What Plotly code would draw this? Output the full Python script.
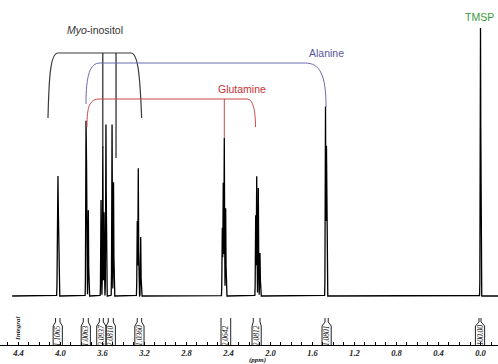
import numpy as np
import plotly.graph_objects as go

# ---------------- data ----------------
# chemical shifts (ppm) of the resolved lines and their heights (arbitrary units)
peak_ppm = [4.029, 4.024, 4.019,
            3.757, 3.751, 3.735,
            3.614, 3.597, 3.585, 3.567,
            3.509, 3.495,
            3.269, 3.259, 3.236,
            2.459, 2.450, 2.440, 2.427,
            2.141, 2.131, 2.116, 2.100,
            1.476, 1.467,
            0.000]
peak_height = [50, 104, 52,
               166, 118, 86,
               96, 150, 84, 172,
               172, 114,
               75, 128, 59,
               68, 113, 158, 88,
               81, 120, 108, 43,
               189, 150,
               268]
line_sigma = 0.0026        # ppm (Gaussian line width)
spec_start, spec_end = 4.46, -0.167

# integral regions (ppm, left/right) and printed integral values
integral_left = [4.047, 3.783, 3.630, 3.545, 3.269, 2.471, 2.164, 1.481, 0.014]
integral_right = [4.005, 3.735, 3.592, 3.497, 3.227, 2.379, 2.100, 1.450, -0.005]
integral_text = ["1.1065", "1.0063", "2.0937", "2.0810", "1.0360",
                 "2.0642", "2.0812", "1.0801", "100.00"]

tick_values = [4.4, 4.0, 3.6, 3.2, 2.8, 2.4, 2.0, 1.6, 1.2, 0.8, 0.4, 0.0]

# ---------------- spectrum ----------------
x = np.arange(spec_start, spec_end, -0.0004)
y = np.zeros_like(x)
for p, h in zip(peak_ppm, peak_height):
    y += h * np.exp(-0.5 * ((x - p) / line_sigma) ** 2)

fig = go.Figure()
fig.add_trace(go.Scatter(x=x, y=y, mode="lines",
                         line=dict(color="black", width=1.3),
                         hoverinfo="skip"))

shapes = []
annotations = []

# ---------------- assignment brackets ----------------
# Myo-inositol (dark grey)
shapes.append(dict(type="path", xref="x", yref="y",
                   path="M 4.119,178 C 4.110,215 4.100,243 4.024,243 L 3.329,243 "
                        "C 3.262,243 3.243,221 3.227,178",
                   line=dict(color="#3a3a3a", width=1.2)))
shapes.append(dict(type="line", xref="x", yref="y", x0=3.597, x1=3.597, y0=243, y1=148,
                   line=dict(color="#222222", width=1.2)))
shapes.append(dict(type="line", xref="x", yref="y", x0=3.471, x1=3.471, y0=243, y1=138,
                   line=dict(color="#222222", width=1.2)))
# Alanine (blue)
shapes.append(dict(type="path", xref="x", yref="y",
                   path="M 3.757,192 C 3.757,221 3.719,233 3.624,233 L 1.671,233 "
                        "C 1.529,233 1.471,221 1.471,189",
                   line=dict(color="#6a6aae", width=1)))
# Glutamine (red)
shapes.append(dict(type="path", xref="x", yref="y",
                   path="M 3.748,169 C 3.748,191 3.719,197 3.624,197 L 2.224,197 "
                        "C 2.167,197 2.143,186 2.143,169",
                   line=dict(color="#c84848", width=1)))
shapes.append(dict(type="line", xref="x", yref="y", x0=2.440, x1=2.440, y0=197, y1=158,
                   line=dict(color="#c84848", width=1)))

label_font = dict(family="Liberation Sans, Arial, sans-serif", size=10.5)
annotations += [
    dict(x=3.671, y=266, xref="x", yref="y", text="<i>Myo</i>-inositol", showarrow=False,
         font=dict(color="#333333", **label_font)),
    dict(x=1.467, y=243, xref="x", yref="y", text="Alanine", showarrow=False,
         font=dict(color="#5656a0", **label_font)),
    dict(x=2.267, y=207, xref="x", yref="y", text="Glutamine", showarrow=False,
         font=dict(color="#c83232", **label_font)),
    dict(x=0.014, y=279, xref="x", yref="y", text="TMSP", showarrow=False,
         font=dict(color="#3a9a3a", **label_font)),
]

# ---------------- integral markers ----------------
px_per_ppm = 105.0
box_half = 4.6 / px_per_ppm
y_top, y_sh0, y_sh1, y_bot = -22, -26, -30, -49
for a, b, t in zip(integral_left, integral_right, integral_text):
    c = (a + b) / 2
    hw = max(abs(a - b) / 2, box_half)
    bl, br = c + hw, c - hw
    p = (f"M {a},{y_top} L {a},{y_sh0} L {bl},{y_sh1} L {bl},{y_bot} "
         f"M {b},{y_top} L {b},{y_sh0} L {br},{y_sh1} L {br},{y_bot}")
    shapes.append(dict(type="path", xref="x", yref="y", path=p,
                       line=dict(color="#222222", width=1)))
    annotations.append(dict(x=c, y=-39.5, xref="x", yref="y", text=t, textangle=-90,
                            showarrow=False,
                            font=dict(family="Liberation Serif, serif", size=7.5,
                                      color="#222222", style="italic")))

annotations.append(dict(x=4.405, y=-33, xref="x", yref="y", text="<b>Integral</b>", textangle=-90,
                        showarrow=False,
                        font=dict(family="Liberation Serif, serif", size=7,
                                  color="#222222", style="italic")))
annotations.append(dict(x=257.5 / 498, y=-0.0435, xref="paper", yref="paper", text="<b>(ppm)</b>",
                        showarrow=False, yanchor="middle",
                        font=dict(family="Liberation Serif, serif", size=7,
                                  color="#222222", style="italic")))

fig.update_layout(
    width=498, height=364,
    margin=dict(l=0, r=0, t=0, b=19),
    paper_bgcolor="white", plot_bgcolor="white",
    showlegend=False,
    shapes=shapes, annotations=annotations,
    xaxis=dict(range=[4.576, -0.1667], tickmode="array", tickvals=tick_values,
               tickformat=".1f", ticks="inside", ticklen=3, tickcolor="black",
               showline=True, linecolor="black", linewidth=1,
               showgrid=False, zeroline=False,
               tickfont=dict(family="Liberation Serif, serif", size=8.5,
                             color="#222222", style="italic", weight="bold"),
               minor=dict(tickmode="linear", tick0=0, dtick=0.1, ticks="inside",
                          ticklen=3, tickcolor="black")),
    yaxis=dict(range=[-49, 296], visible=False),
)

fig.write_html("out.html")
